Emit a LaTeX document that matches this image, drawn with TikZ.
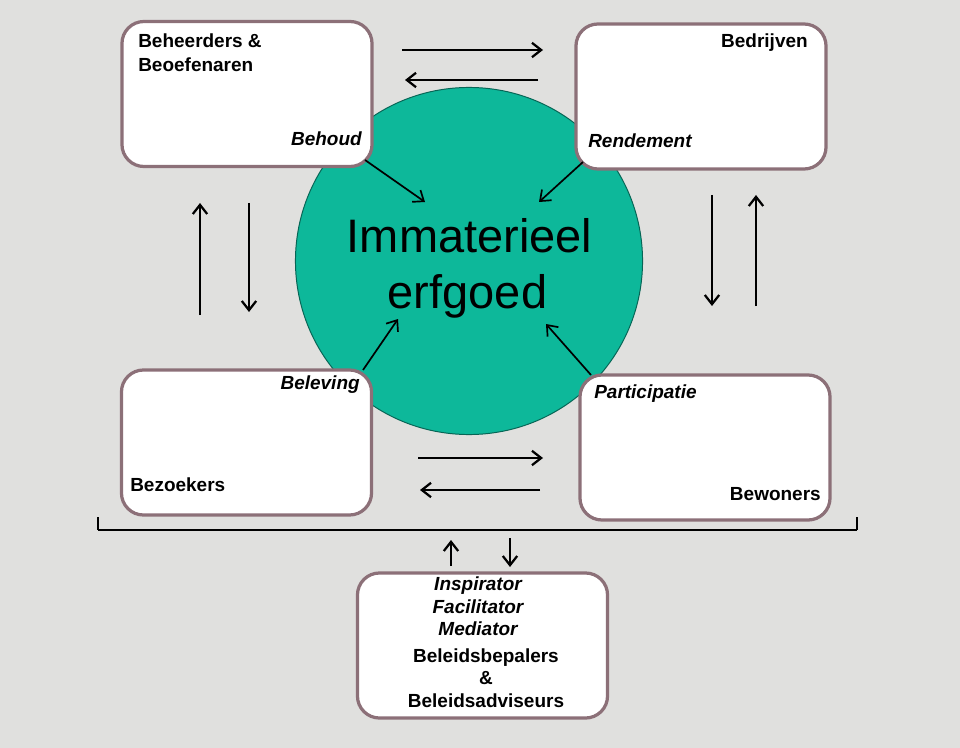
\documentclass[tikz,border=0pt]{standalone}
\usepackage{fontspec}
\setmainfont{Liberation Sans}
\usetikzlibrary{arrows.meta}
\definecolor{grijs}{HTML}{E0E0DE}
\definecolor{groen}{HTML}{0DB89A}
\definecolor{rand}{HTML}{8C7078}

\begin{document}
\begin{tikzpicture}[x=0.025cm, y=-0.025cm, >={Straight Barb[length=2.3mm,width=3.6mm]},
    vak/.style={draw=rand, line width=2.3pt, fill=white, rounded corners=0.55cm,
        minimum width=6.25cm, minimum height=3.625cm, inner sep=0pt},
    naam/.style={font=\bfseries\fontsize{13.5}{16}\selectfont, inner sep=0pt},
    rol/.style={font=\bfseries\itshape\fontsize{13.5}{16}\selectfont, inner sep=0pt},
    pijl/.style={->, line width=1.6pt},
    schuin/.style={->, line width=1.2pt}]
    % achtergrond
    \fill[grijs] (0,0) rectangle (960,748);
    \useasboundingbox (0,0) rectangle (960,748);

    % cirkel in het midden
    \node[circle, draw=black!45!groen, line width=0.7pt, fill=groen,
        minimum size=8.675cm, inner sep=0pt] (kern) at (469,261) {};
    \node[font=\fontsize{33.4}{40}\selectfont, anchor=base, inner sep=0pt] (kern1) at (469.5,252) {Immaterieel};
    \node[font=\fontsize{33.4}{40}\selectfont, anchor=base, inner sep=0pt] (kern2) at (467.5,308) {erfgoed};

    % vakken
    \node[vak] (beheer) at (247,94) {};
    \node[vak] (bedrijf) at (701,96.5) {};
    \node[vak] (bezoek) at (246.5,442.5) {};
    \node[vak] (bewoner) at (705,447.5) {};
    \node[vak] (beleid) at (482.5,645.5) {};

    % namen en rollen
    \node[naam, anchor=base west] (beheer1) at (138,48) {Beheerders \&};
    \node[naam, anchor=base west] (beheer2) at (138,72) {Beoefenaren};
    \node[rol, anchor=base east] (behoud) at (362,146) {Behoud};
    \node[naam, anchor=base east] (bedrijf1) at (808,48) {Bedrijven};
    \node[rol, anchor=base west] (rendement) at (588,148) {Rendement};
    \node[rol, anchor=base east] (beleving) at (360,389) {Beleving};
    \node[naam, anchor=base west] (bezoek1) at (130,491) {Bezoekers};
    \node[rol, anchor=base west] (participatie) at (594,398) {Participatie};
    \node[naam, anchor=base east] (bewoner1) at (821,500) {Bewoners};

    % beleid: rollen en namen
    \foreach \n/\t/\y in {r1/Inspirator/590, r2/Facilitator/613, r3/Mediator/635}
        \node[rol, anchor=base] (\n) at (478,\y) {\t};
    \foreach \n/\t/\y in {n1/Beleidsbepalers/662, n2/\&/684, n3/Beleidsadviseurs/707}
        \node[naam, anchor=base] (\n) at (486,\y) {\t};

    % eindpunten van de pijlen
    \foreach \n/\x/\y in {a1/402/50, a2/543/50, a3/538/80, a4/405/80,
                          b1/418/458, b2/543/458, b3/540/490, b4/420/490,
                          c1/200/315, c2/200/203, c3/249/203, c4/249/312,
                          d1/712/195, d2/712/306, d3/756/306, d4/756/195,
                          e1/451/566, e2/451/540, e3/510/538, e4/510/567}
        \coordinate (\n) at (\x,\y);
    \foreach \s/\e in {a1/a2, a3/a4, b1/b2, b3/b4, c1/c2, c3/c4, d1/d2, d3/d4, e1/e2, e3/e4}
        \draw[pijl] (\s) -- (\e);

    % pijlen naar het erfgoed
    \foreach \n/\x/\y in {s1/365/160, s2/425/202, s3/583/162, s4/539/202,
                          s5/363/370, s6/398/319, s7/591/375, s8/546/324}
        \coordinate (\n) at (\x,\y);
    \foreach \s/\e in {s1/s2, s3/s4, s5/s6, s7/s8}
        \draw[schuin] (\s) -- (\e);

    % haak boven het beleid
    \coordinate (h1) at (98,517);
    \coordinate (h2) at (98,530);
    \coordinate (h3) at (857,530);
    \coordinate (h4) at (857,517);
    \draw[line width=1.9pt] (h2) -- (h3);
    \draw[line width=1pt] (h1) -- (h2);
    \draw[line width=1pt] (h3) -- (h4);
\end{tikzpicture}
\end{document}
